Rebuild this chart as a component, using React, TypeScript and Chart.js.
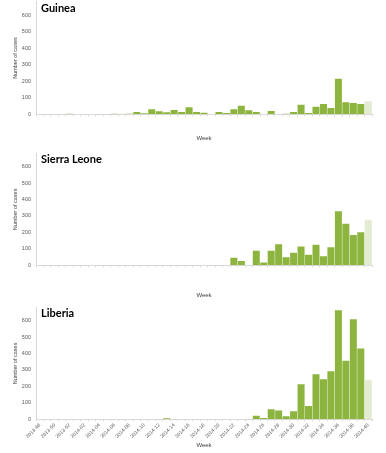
import React, { useEffect, useRef } from "react";
import { Chart, registerables } from "chart.js";

Chart.register(...registerables);

const weeks = [
  "2013-48", "2013-49", "2013-50", "2013-51", "2013-52",
  "2014-01", "2014-02", "2014-03", "2014-04", "2014-05", "2014-06", "2014-07", "2014-08", "2014-09", "2014-10",
  "2014-11", "2014-12", "2014-13", "2014-14", "2014-15", "2014-16", "2014-17", "2014-18", "2014-19", "2014-20",
  "2014-21", "2014-22", "2014-23", "2014-24", "2014-25", "2014-26", "2014-27", "2014-28", "2014-29", "2014-30",
  "2014-31", "2014-32", "2014-33", "2014-34", "2014-35", "2014-36", "2014-37", "2014-38", "2014-39", "2014-40",
];

const guineaCases = [
  1, 0, 1, 0, 3,
  1, 0, 0, 2, 2, 3, 2, 3, 14, 6,
  30, 18, 12, 26, 14, 42, 14, 10, 0, 14,
  8, 30, 51, 24, 14, 0, 20, 1, 3, 14,
  57, 8, 45, 63, 38, 215, 73, 69, 63, 79,
];

const sierraLeoneCases = [
  0, 0, 0, 0, 0,
  0, 0, 0, 0, 0, 0, 0, 0, 0, 0,
  0, 0, 0, 0, 0, 0, 0, 0, 0, 0,
  0, 46, 26, 0, 88, 17, 88, 128, 49, 76,
  114, 64, 125, 55, 110, 329, 252, 184, 201, 277,
];

const liberiaCases = [
  0, 0, 0, 0, 0,
  0, 0, 0, 0, 0, 0, 0, 0, 0, 0,
  0, 2, 7, 2, 0, 0, 0, 0, 0, 0,
  0, 0, 0, 2, 22, 8, 61, 53, 18, 49,
  213, 81, 274, 243, 292, 664, 356, 608, 431, 237,
];

const yMax = 680;
const yStep = 100;

const BAR = "#8cb43f";
const BAR_LAST = "#e4ebd3";
const AXIS = "#d9d9d9";
const TEXT = "#595959";
const TICK_FONT = "'Liberation Sans', Arial, sans-serif";
const TITLE_FONT = "Lato, 'Liberation Sans', sans-serif";

type PanelProps = {
  title: string;
  data: number[];
  top: number;
  height: number;
  padTop: number;
  xHeight: number;
  weekPad: number;
  titleBaseline: number;
  showLabels: boolean;
};

function Panel(p: PanelProps) {
  const ref = useRef<HTMLCanvasElement | null>(null);
  useEffect(() => {
    if (!ref.current) return;
    const titlePlugin = {
      id: "panelTitle",
      afterDraw(chart: any) {
        const ctx = chart.ctx;
        ctx.save();
        ctx.font = `bold 11px ${TITLE_FONT}`;
        ctx.fillStyle = "#000";
        ctx.textAlign = "left";
        ctx.textBaseline = "alphabetic";
        ctx.fillText(p.title, 41, p.titleBaseline);
        ctx.restore();
      },
    };
    const last = p.data.length - 1;
    const chart = new Chart(ref.current, {
      type: "bar",
      data: {
        labels: weeks,
        datasets: [
          {
            data: p.data,
            backgroundColor: p.data.map((_, i) => (i === last ? BAR_LAST : BAR)),
            borderWidth: 0,
            barPercentage: 1,
            categoryPercentage: 0.94,
          },
        ],
      },
      options: {
        animation: false,
        responsive: false,
        maintainAspectRatio: false,
        layout: { padding: { left: 0, right: 14, top: p.padTop, bottom: 0 } },
        plugins: {
          legend: { display: false },
          tooltip: { enabled: false },
          title: { display: false },
        },
        scales: {
          x: {
            grid: {
              display: true,
              drawOnChartArea: false,
              drawTicks: true,
              tickLength: 2,
              color: AXIS,
              offset: true,
            },
            border: { color: AXIS },
            ticks: {
              display: p.showLabels,
              autoSkip: false,
              maxRotation: 45,
              minRotation: 45,
              padding: 1,
              color: TEXT,
              font: { size: 5, family: TICK_FONT },
              callback: (_v: any, i: number) => (i % 2 === 0 ? weeks[i] : ""),
            },
            title: {
              display: true,
              text: "Week",
              color: "#404040",
              font: { size: 6, family: TICK_FONT },
              padding: { top: 0, bottom: p.weekPad },
            },
            afterFit: (s: any) => {
              s.height = p.xHeight;
              s.paddingLeft = 0;
              s.paddingRight = 0;
            },
          },
          y: {
            min: 0,
            max: yMax,
            grid: { display: false, drawTicks: false },
            border: { color: AXIS },
            ticks: {
              stepSize: yStep,
              includeBounds: false,
              padding: 5,
              color: TEXT,
              font: { size: 5.5, family: TICK_FONT },
            },
            title: {
              display: true,
              text: "Number of cases",
              color: "#404040",
              font: { size: 5.5, family: TICK_FONT },
              padding: { top: 12, bottom: 0 },
            },
            afterFit: (s: any) => {
              s.width = 36;
              s.paddingTop = 0;
              s.paddingBottom = 0;
            },
          },
        },
      },
      plugins: [titlePlugin],
    } as any);
    return () => chart.destroy();
  }, []);
  return (
    <canvas
      ref={ref}
      width={386}
      height={p.height}
      style={{ position: "absolute", left: 0, top: p.top, width: 386, height: p.height, display: "block" }}
    />
  );
}

export default function App() {
  return (
    <div style={{ position: "absolute", left: 0, top: 0, width: 386, height: 453, background: "#fff", overflow: "hidden" }}>
      <Panel title="Guinea" data={guineaCases} top={0} height={145} padTop={1.8} xHeight={30.7} weekPad={3.4} titleBaseline={12} showLabels={false} />
      <Panel title="Sierra Leone" data={sierraLeoneCases} top={146} height={154} padTop={7.5} xHeight={34.7} weekPad={0.9} titleBaseline={16.7} showLabels={false} />
      <Panel title="Liberia" data={liberiaCases} top={300} height={153} padTop={7.5} xHeight={33.7} weekPad={3.7} titleBaseline={17.3} showLabels={true} />
    </div>
  );
}
